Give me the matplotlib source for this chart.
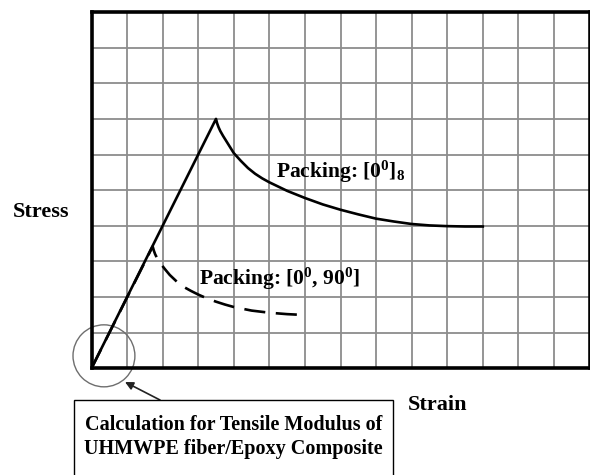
import matplotlib
matplotlib.use("Agg")
import matplotlib.pyplot as plt
from matplotlib.patches import Circle, Rectangle

plt.rcParams['font.family'] = ['Liberation Serif', 'DejaVu Serif']
plt.rcParams['font.weight'] = 'bold'
plt.rcParams['mathtext.fontset'] = 'custom'
plt.rcParams['mathtext.rm'] = 'Liberation Serif:bold'
plt.rcParams['mathtext.bf'] = 'Liberation Serif:bold'
plt.rcParams['mathtext.it'] = 'Liberation Serif:bold'

# Data in grid units (14 x 10 grid)
strain_0_8 = [0.0, 3.5, 3.53, 3.57, 3.62, 3.7, 3.8, 3.9, 4.0, 4.2, 4.4, 4.6, 4.8, 5.0, 5.5,
              6.0, 6.5, 7.0, 7.5, 8.0, 8.5, 9.0, 9.5, 10.0, 10.5, 11.0]
stress_0_8 = [0.0, 7.0, 6.88, 6.77, 6.66, 6.52, 6.36, 6.2, 6.04, 5.82, 5.62, 5.46, 5.33, 5.22, 4.98,
              4.78, 4.6, 4.45, 4.32, 4.2, 4.12, 4.05, 4.01, 3.99, 3.98, 3.98]

strain_0_90 = [0.0, 1.72, 1.75, 1.79, 1.85, 1.95, 2.05, 2.2, 2.4, 2.6, 2.8, 3.0, 3.25, 3.5,
               3.75, 4.0, 4.5, 5.0, 5.5, 5.9]
stress_0_90 = [0.0, 3.42, 3.31, 3.2, 3.08, 2.93, 2.8, 2.62, 2.43, 2.28, 2.17, 2.07, 1.96, 1.87,
               1.79, 1.72, 1.62, 1.56, 1.52, 1.5]

label_0_8 = r"Packing: [0$^{\mathrm{0}}$]$_{\mathrm{8}}$"
label_0_90 = r"Packing: [0$^{\mathrm{0}}$, 90$^{\mathrm{0}}$]"
x_label = "Strain"
y_label = "Stress"
box_text = "Calculation for Tensile Modulus of\nUHMWPE fiber/Epoxy Composite"

W, H = 590, 475
fig = plt.figure(figsize=(W / 100, H / 100), dpi=100)
left, right, top, bottom = 91.5, 589.5, 12, 368.3
ax = fig.add_axes([left / W, 1 - bottom / H, (right - left) / W, (bottom - top) / H])
ax.set_xlim(0, 14)
ax.set_ylim(0, 10)
ax.set_xticks(range(0, 15))
ax.set_yticks(range(0, 11))
ax.tick_params(length=0, labelbottom=False, labelleft=False)
ax.grid(True, color='#8c8c8c', lw=1.3)
ax.set_axisbelow(True)
for s in ax.spines.values():
    s.set_linewidth(2.6)
    s.set_color('black')

ax.plot(strain_0_8, stress_0_8, color='black', lw=1.9, solid_joinstyle='round')
ln, = ax.plot(strain_0_90, stress_0_90, color='black', lw=1.9)
ln.set_dashes((8, 4))

ax.text(5.2, 5.5, label_0_8, fontsize=15.5, fontweight='bold', va='center', ha='left')
ax.text(3.03, 2.5, label_0_90, fontsize=15.5, fontweight='bold', va='center', ha='left')

circ = Circle((0.35, 0.35), 0.87, fill=False, edgecolor='#6e6e6e', lw=1.0, clip_on=False)
ax.add_patch(circ)

fig.text(41 / W, 1 - 212 / H, y_label, fontsize=16, fontweight='bold', ha='center', va='center')
fig.text(408 / W, 1 - 405 / H, x_label, fontsize=16, fontweight='bold', ha='left', va='center')

rect = Rectangle((74 / W, -0.05), (393 - 74) / W, 0.05 + (1 - 400 / H), transform=fig.transFigure,
                 fill=False, edgecolor='black', lw=1.0)
fig.patches.append(rect)
fig.text(233.5 / W, 1 - 437 / H, box_text, fontsize=14.5, fontweight='bold', ha='center', va='center',
         linespacing=1.25)

ax.annotate('', xy=(125, H - 382), xycoords='figure pixels', xytext=(160, H - 400), textcoords='figure pixels',
            arrowprops=dict(arrowstyle='-|>', color='#222222', lw=1.2, mutation_scale=12, shrinkA=0, shrinkB=0))

fig.savefig('out.png', dpi=100)
